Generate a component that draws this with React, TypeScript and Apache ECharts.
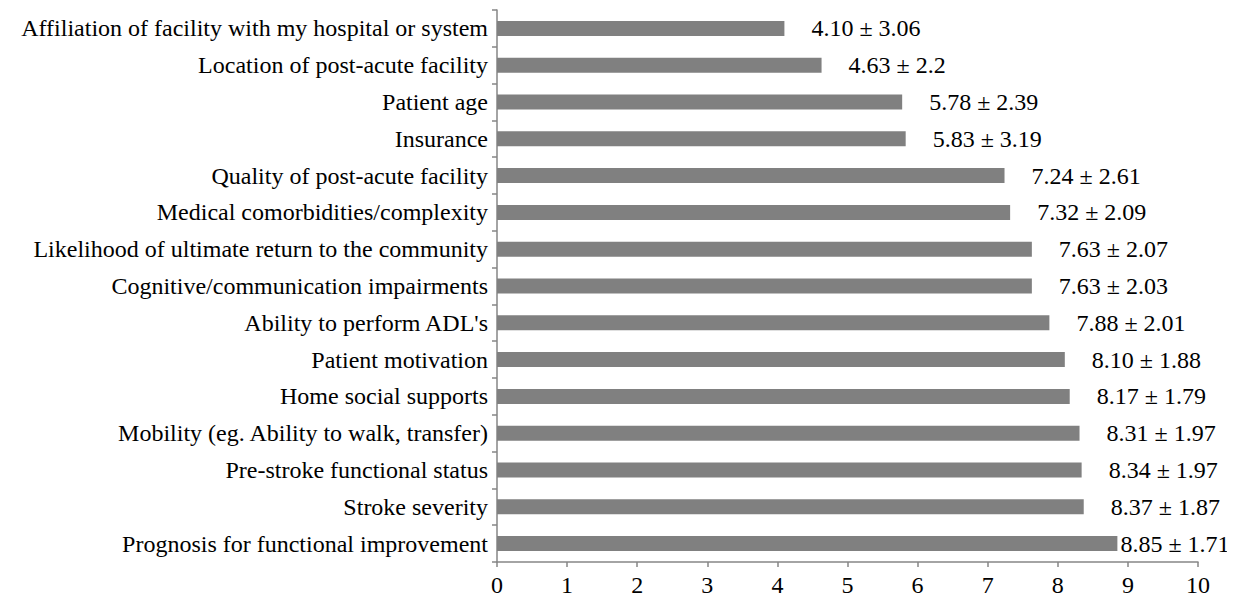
import React, { useEffect, useRef } from "react";
import * as echarts from "echarts";

const categories = [
  "Prognosis for functional improvement",
  "Stroke severity",
  "Pre-stroke functional status",
  "Mobility (eg. Ability to walk, transfer)",
  "Home social supports",
  "Patient motivation",
  "Ability to perform ADL's",
  "Cognitive/communication impairments",
  "Likelihood of ultimate return to the community",
  "Medical comorbidities/complexity",
  "Quality of post-acute facility",
  "Insurance",
  "Patient age",
  "Location of post-acute facility",
  "Affiliation of facility with my hospital or system",
];
const means = [8.85, 8.37, 8.34, 8.31, 8.17, 8.1, 7.88, 7.63, 7.63, 7.32, 7.24, 5.83, 5.78, 4.63, 4.1];
const sdLabels = ["1.71", "1.87", "1.97", "1.97", "1.79", "1.88", "2.01", "2.03", "2.07", "2.09", "2.61", "3.19", "2.39", "2.2", "3.06"];
const meanLabels = ["8.85", "8.37", "8.34", "8.31", "8.17", "8.10", "7.88", "7.63", "7.63", "7.32", "7.24", "5.83", "5.78", "4.63", "4.10"];

export default function App() {
  const ref = useRef<HTMLDivElement>(null);
  useEffect(() => {
    if (!ref.current) return;
    const chart = echarts.init(ref.current, null, { renderer: "svg" });
    const font = "'Liberation Serif', 'Times New Roman', serif";
    chart.setOption({
      animation: false,
      textStyle: { fontFamily: font },
      grid: { left: 489, top: 2, right: 37, bottom: 40, containLabel: false },
      xAxis: {
        type: "value",
        min: 0,
        max: 10,
        interval: 1,
        splitLine: { show: false },
        axisLine: { show: true, lineStyle: { color: "#868686", width: 1.5 } },
        axisTick: { show: true, length: 5, lineStyle: { color: "#868686", width: 1.5 } },
        axisLabel: { color: "#000", fontSize: 24, fontFamily: font, margin: 11 },
      },
      yAxis: {
        type: "category",
        data: categories,
        axisLine: { show: true, lineStyle: { color: "#868686", width: 1.5 } },
        axisTick: { show: true, length: 5, lineStyle: { color: "#868686", width: 1.5 } },
        axisLabel: { color: "#000", fontSize: 24, fontFamily: font, margin: 9 },
      },
      series: [
        {
          type: "bar",
          barWidth: 15,
          itemStyle: { color: "#808080" },
          data: means.map((v, i) => ({
            value: v,
            label: { distance: i === 0 ? 3 : 27 },
          })),
          label: {
            show: true,
            position: "right",
            color: "#000",
            fontSize: 24,
            fontFamily: font,
            formatter: (p: any) => `${meanLabels[p.dataIndex]} ± ${sdLabels[p.dataIndex]}`,
          },
        },
      ],
    });
    return () => chart.dispose();
  }, []);
  return <div ref={ref} style={{ width: 1227, height: 594 }} />;
}
